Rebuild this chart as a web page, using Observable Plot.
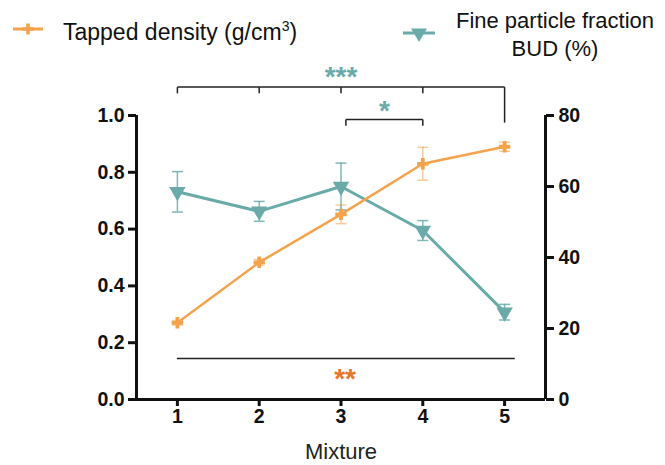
<!DOCTYPE html>
<html>
<head>
<meta charset="utf-8">
<script src="https://cdn.jsdelivr.net/npm/d3@7"></script>
<script src="https://cdn.jsdelivr.net/npm/@observablehq/plot@0.6"></script>
<style>
  html, body { margin: 0; padding: 0; background: #fff; }
  body { width: 665px; height: 465px; overflow: hidden; font-family: Arial, "Liberation Sans", sans-serif; }
  #legend { position: relative; width: 665px; height: 60px; }
  #legend .item { position: absolute; color: #111; }
  #legend svg { position: absolute; overflow: visible; }
  #chart svg { display: block; overflow: visible; }
</style>
</head>
<body>
<div id="legend">
  <svg style="left:13px;top:20px" width="32" height="18">
    <line x1="0" y1="9" x2="30" y2="9" stroke="#F5A24C" stroke-width="3"/>
    <path d="M-1.8,-5.6h3.6v3.8h3.8v3.6h-3.8v3.8h-3.6v-3.8h-3.8v-3.6h3.8z" transform="translate(15,9)" fill="#F5A24C"/>
  </svg>
  <div class="item" id="lg1" style="left:63px;top:17px;font-size:23px;line-height:30px;">Tapped density (g/cm<sup style="font-size:14px;vertical-align:9px;line-height:0">3</sup>)</div>
  <svg style="left:403px;top:24px" width="34" height="18">
    <line x1="0" y1="9" x2="32" y2="9" stroke="#6AABAA" stroke-width="3"/>
    <path d="M-8,-4.5L8,-4.5L0,9z" transform="translate(16,9)" fill="#6AABAA"/>
  </svg>
  <div class="item" id="lg2" style="left:452px;top:7px;width:206px;text-align:center;font-size:22px;line-height:28px;">Fine particle fraction<br>BUD (%)</div>
</div>
<div id="chart"></div>
<script>
// ---- data ----
const mixtures = [1, 2, 3, 4, 5];
const tappedDensity = [0.27, 0.483, 0.652, 0.83, 0.89];
const tappedDensitySD = [0.008, 0.01, 0.033, 0.058, 0.016];
const fpfBUD = [58.5, 53.0, 60.0, 47.6, 24.6];
const fpfBUDSD = [5.7, 2.8, 6.6, 2.8, 2.2];
const leftTicks = [0, 0.2, 0.4, 0.6, 0.8, 1.0];
const rightTicks = [0, 20, 40, 60, 80];
const fpfSig = [
  {groups: [1, 2, 3, 4, 5], label: "***"},
  {groups: [3, 4], label: "*"}
];
const tdSig = [{groups: [1, 5], label: "**"}];

// ---- styles ----
const ORANGE = "#F5A24C", TEAL = "#6AABAA", SIG_ORANGE = "#E8742A";
const rightMax = rightTicks[rightTicks.length - 1];
const toLeft = v => v / rightMax;

const td = mixtures.map((m, i) => ({x: m, y: tappedDensity[i], lo: tappedDensity[i] - tappedDensitySD[i], hi: tappedDensity[i] + tappedDensitySD[i]}));
const fp = mixtures.map((m, i) => ({x: m, y: toLeft(fpfBUD[i]), lo: toLeft(fpfBUD[i] - fpfBUDSD[i]), hi: toLeft(fpfBUD[i] + fpfBUDSD[i])}));

const cap = {draw(ctx, size) { const w = 5.5; ctx.moveTo(-w, 0); ctx.lineTo(w, 0); }};

// bracket geometry (layout levels in y units)
const big = fpfSig[0], small = fpfSig[1];
const bigY = 1.1, smallY = 0.986;
const bracketSegs = [];
bracketSegs.push({x1: big.groups[0], x2: big.groups[big.groups.length - 1], y1: bigY, y2: bigY});
big.groups.forEach((g, i) => {
  const last = i === big.groups.length - 1;
  bracketSegs.push({x1: g, x2: g, y1: bigY, y2: last ? 0.975 : bigY - 0.022});
});
const s0 = small.groups[0] + 0.06, s1 = small.groups[1];
bracketSegs.push({x1: s0, x2: s1, y1: smallY, y2: smallY});
bracketSegs.push({x1: s0, x2: s0, y1: smallY, y2: smallY - 0.022});
bracketSegs.push({x1: s1, x2: s1, y1: smallY, y2: smallY - 0.022});
const tdLine = {x1: tdSig[0].groups[0], x2: tdSig[0].groups[1] + 0.13, y: 0.144};

const sigTexts = [
  {x: (big.groups[0] + big.groups[big.groups.length - 1]) / 2, y: bigY + 0.035, label: big.label, color: TEAL},
  {x: (s0 + s1) / 2, y: smallY + 0.03, label: small.label, color: TEAL},
  {x: (tdSig[0].groups[0] + tdSig[0].groups[1]) / 2 + 0.05, y: tdLine.y - 0.072, label: tdSig[0].label, color: SIG_ORANGE}
];

const font = 'Arial, "Liberation Sans", sans-serif';

const chart = Plot.plot({
  width: 665,
  height: 405,
  marginTop: 55,
  marginBottom: 66,
  marginLeft: 136,
  marginRight: 120,
  style: {fontFamily: font, background: "white", color: "#111"},
  x: {domain: [0.5, 5.5]},
  y: {domain: [0, 1]},
  marks: [
    // axes lines
    Plot.ruleX([0.5, 5.5], {stroke: "#111", strokeWidth: 3, y1: 0, y2: 1}),
    Plot.ruleY([0], {stroke: "#111", strokeWidth: 3, x1: 0.5, x2: 5.5}),
    Plot.axisY(leftTicks, {anchor: "left", tickSize: 8, tickPadding: 4, strokeWidth: 3, fontSize: 19.5, fontWeight: "bold", tickFormat: d3.format(".1f"), label: null, stroke: "#111", fill: "#111"}),
    Plot.axisY(rightTicks.map(toLeft), {anchor: "right", tickSize: 8, tickPadding: 5, strokeWidth: 3, fontSize: 19.5, fontWeight: "bold", tickFormat: d => Math.round(d * rightMax), label: null, stroke: "#111", fill: "#111"}),
    Plot.axisX(mixtures, {tickSize: 7, tickPadding: 3, strokeWidth: 3, fontSize: 19.5, fontWeight: "bold", tickFormat: d => d, label: null, stroke: "#111", fill: "#111"}),
    Plot.text(["Mixture"], {frameAnchor: "bottom", dy: 59, fontSize: 22, fill: "#222"}),
    // significance
    Plot.link(bracketSegs, {x1: "x1", x2: "x2", y1: "y1", y2: "y2", stroke: "#222", strokeWidth: 1.5, clip: false}),
    Plot.ruleY([tdLine], {x1: "x1", x2: "x2", y: "y", stroke: "#222", strokeWidth: 1.5}),
    Plot.text(sigTexts, {x: "x", y: "y", text: "label", fill: "color", fontSize: 28, fontWeight: "bold", letterSpacing: 1}),
    // error bars
    Plot.ruleX(td, {x: "x", y1: "lo", y2: "hi", stroke: ORANGE, strokeOpacity: 0.55, strokeWidth: 1.5}),
    Plot.dot(td, {x: "x", y: "lo", symbol: cap, stroke: ORANGE, strokeOpacity: 0.55, strokeWidth: 1.5}),
    Plot.dot(td, {x: "x", y: "hi", symbol: cap, stroke: ORANGE, strokeOpacity: 0.55, strokeWidth: 1.5}),
    Plot.ruleX(fp, {x: "x", y1: "lo", y2: "hi", stroke: TEAL, strokeOpacity: 0.85, strokeWidth: 1.5}),
    Plot.dot(fp, {x: "x", y: "lo", symbol: cap, stroke: TEAL, strokeOpacity: 0.85, strokeWidth: 1.5}),
    Plot.dot(fp, {x: "x", y: "hi", symbol: cap, stroke: TEAL, strokeOpacity: 0.85, strokeWidth: 1.5}),
    // lines
    Plot.line(fp, {x: "x", y: "y", stroke: TEAL, strokeWidth: 3}),
    Plot.line(td, {x: "x", y: "y", stroke: ORANGE, strokeWidth: 2.5}),
    Plot.dot(fp, {x: "x", y: "y", symbol: "triangle", rotate: 180, r: 6.1, fill: TEAL, stroke: "none"}),
    Plot.dot(td, {x: "x", y: "y", symbol: "cross", r: 4.8, fill: ORANGE, stroke: "none"})
  ]
});
document.getElementById("chart").appendChild(chart);
</script>
</body>
</html>
